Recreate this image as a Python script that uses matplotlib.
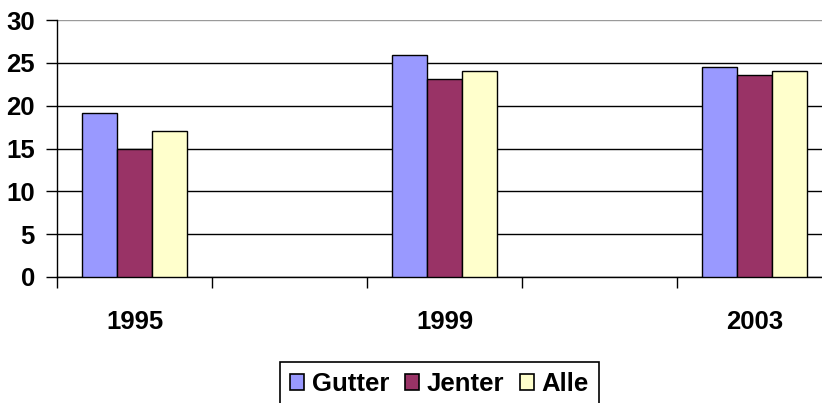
import matplotlib
matplotlib.use('Agg')
import matplotlib.pyplot as plt
from matplotlib.patches import Patch
import numpy as np

plt.rcParams['font.family'] = ['Liberation Sans', 'DejaVu Sans']
plt.rcParams['font.weight'] = 'bold'

years = [1995, 1999, 2003]
gutter = [19.1, 25.9, 24.5]
jenter = [14.9, 23.1, 23.6]
alle = [17.0, 24.0, 24.0]
series = ['Gutter', 'Jenter', 'Alle']
colors = ['#9999FF', '#993366', '#FFFFCC']
yticks = [0, 5, 10, 15, 20, 25, 30]

# one slot per two years, so 1997 and 2001 stay empty
x = (np.array(years) - years[0]) / 2
nslots = 5
bw = 0.225
fs = 18.5

fig = plt.figure(figsize=(8.22, 4.03), dpi=100)
ax = fig.add_axes([57 / 822, 1 - 277 / 403, 775 / 822, 257 / 403])

for i, (vals, name) in enumerate(zip([gutter, jenter, alle], series)):
    ax.bar(x + (i - 1) * bw, vals, bw, color=colors[i], edgecolor='black',
           linewidth=1.0, zorder=3, label=name)

ax.set_xlim(-0.5, nslots - 0.5)
ax.set_ylim(0, 30)
ax.set_yticks(yticks)
ax.set_yticklabels([str(v) for v in yticks], fontsize=fs, fontweight='bold')
ax.tick_params(axis='y', length=8, width=1, pad=8, direction='out')

ax.set_xticks(np.arange(nslots) - 0.5)
ax.set_xticklabels([])
ax.tick_params(axis='x', which='major', length=8, width=1, direction='out')
ax.set_xticks(x, minor=True)
ax.set_xticklabels([str(y) for y in years], minor=True, fontsize=fs, fontweight='bold')
ax.tick_params(axis='x', which='minor', length=0, pad=24)

ax.yaxis.grid(True, color='black', linewidth=1.0, zorder=0)
ax.set_axisbelow(True)
ax.get_ygridlines()[-1].set_color('#9a9a9a')
ax.spines['top'].set_visible(False)
ax.spines['right'].set_visible(False)
ax.spines['left'].set_linewidth(1.0)
ax.spines['bottom'].set_linewidth(1.0)

handles = [Patch(facecolor=c, edgecolor='black', linewidth=1.2) for c in colors]
leg = fig.legend(handles, series, loc='upper left',
                 bbox_to_anchor=(280 / 822, 1 - 362 / 403), ncol=3,
                 prop={'size': fs, 'weight': 'bold'}, frameon=True, fancybox=False,
                 framealpha=1, handlelength=0.55, handleheight=0.55, handletextpad=0.3,
                 columnspacing=0.6, borderpad=0.4, borderaxespad=0)
leg.get_frame().set_edgecolor('black')
leg.get_frame().set_linewidth(1.2)

fig.savefig('out.png', dpi=100)
